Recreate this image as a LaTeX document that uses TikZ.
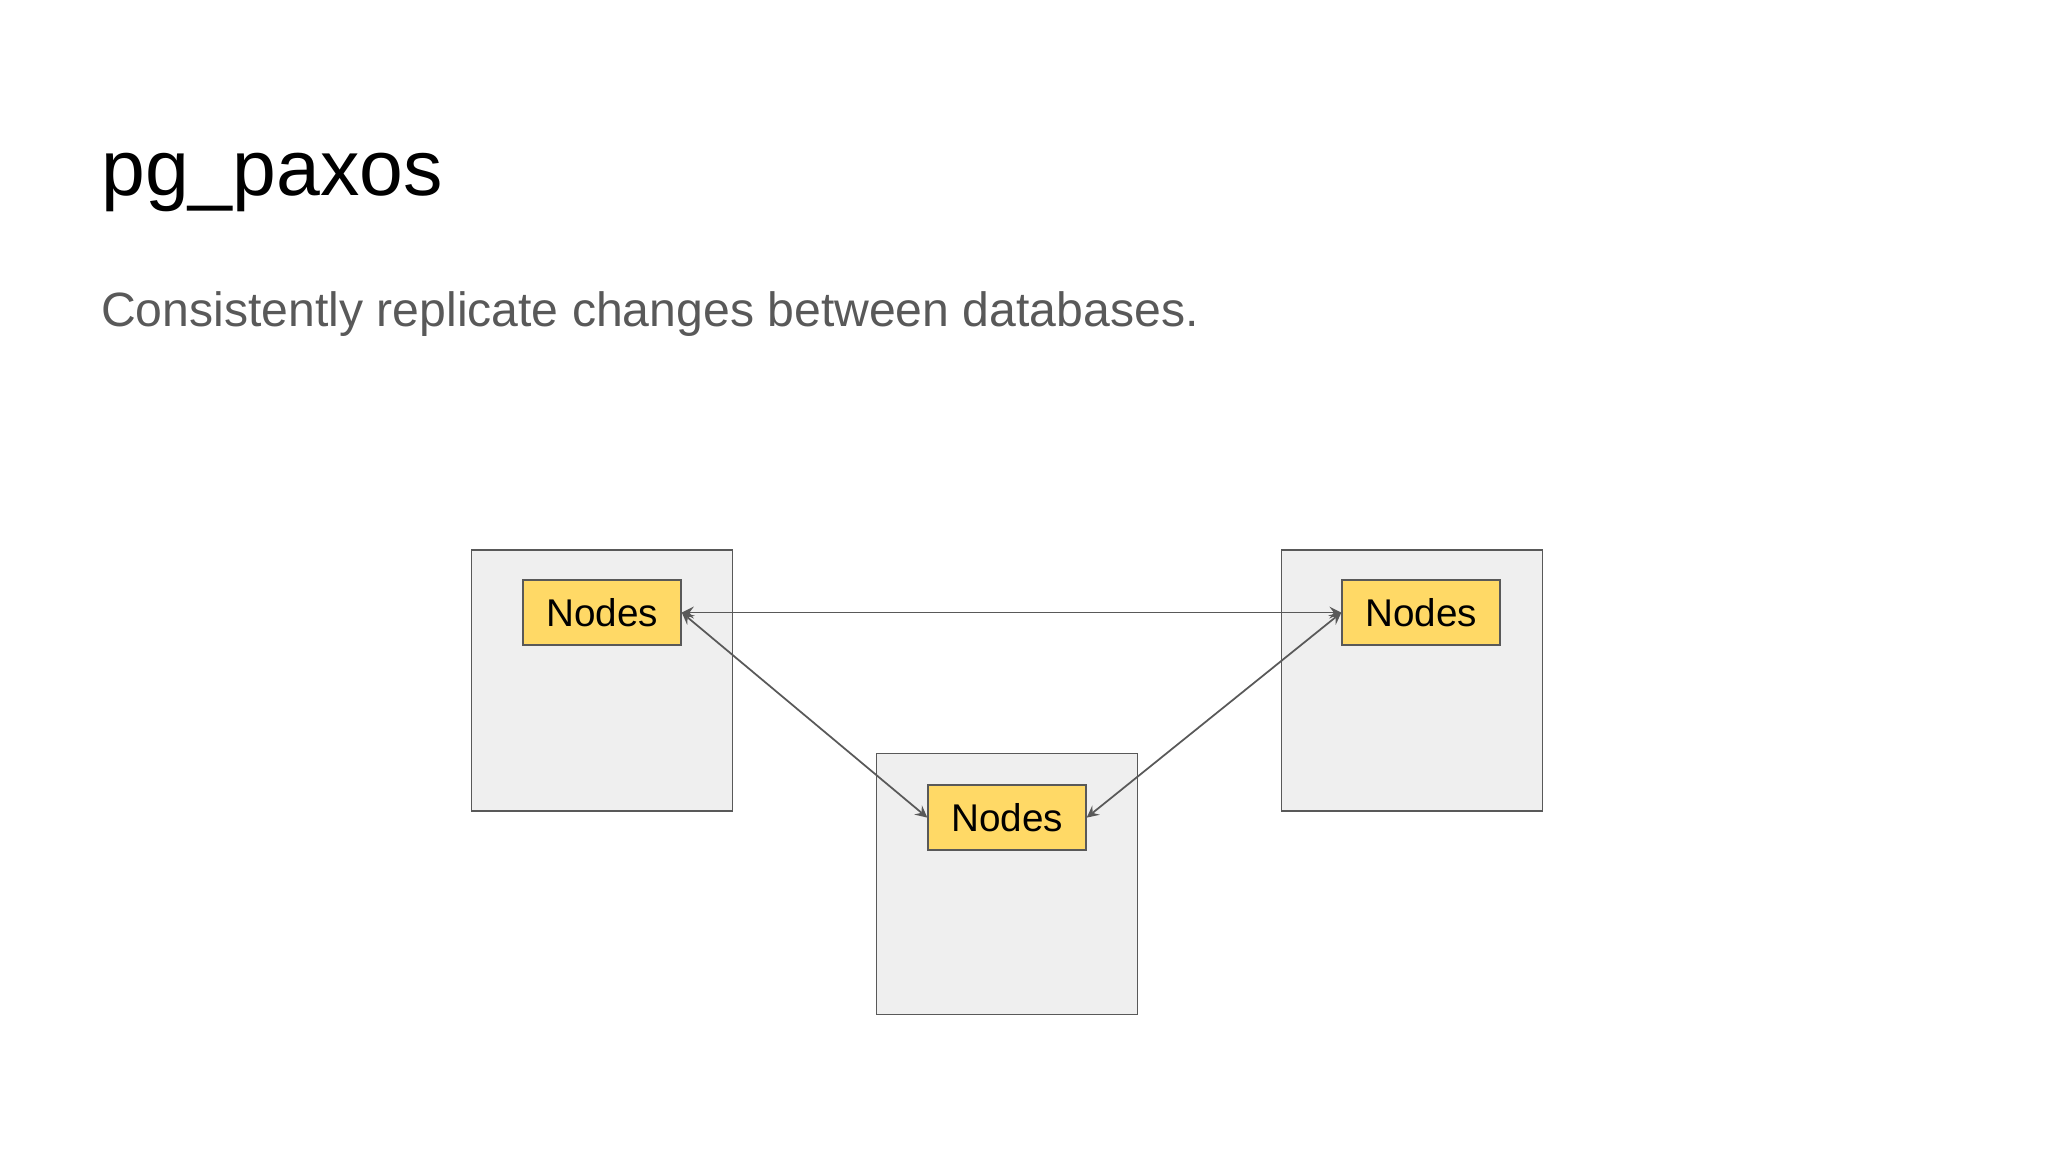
\documentclass[tikz,border=0pt]{standalone}
\usepackage{fontspec}
\setmainfont{Liberation Sans}
\usetikzlibrary{positioning}
\definecolor{boxfill}{HTML}{EFEFEF}
\definecolor{boxline}{HTML}{595959}
\definecolor{nodefill}{HTML}{FFD966}
\definecolor{subgray}{HTML}{595959}

\begin{document}
\begin{tikzpicture}[x=0.013061cm,y=-0.013061cm]
        \tikzset{
          server/.style={draw=boxline,fill=boxfill,minimum width=2.61cm,minimum height=2.61cm,inner sep=0pt},
          pgnode/.style={draw=boxline,fill=nodefill,minimum width=1.58cm,minimum height=0.65cm,inner sep=0pt,font=\fontsize{11pt}{13pt}\selectfont},
          link/.style={draw=boxline,line width=0.5pt,<->,>=stealth}
        }
        \useasboundingbox (0,0) rectangle (1568,882);
        \node [anchor=base west,font=\fontsize{22.4pt}{26pt}\selectfont] (title) at (68,150) {pg\_paxos};
        \node [anchor=base west,text=subgray,font=\fontsize{13.7pt}{16pt}\selectfont] (subtitle) at (68,250) {Consistently replicate changes between databases.};
        \node [server] (left) at (461,521) {};
        \node [server] (right) at (1081,521) {};
        \node [server] (middle) at (771,677) {};
        \node [pgnode] (nleft) at (461,469) {Nodes};
        \node [pgnode] (nright) at (1088,469) {Nodes};
        \node [pgnode] (nmiddle) at (771,626) {Nodes};
        \draw [link] (nleft.east) -- (nright.west);
        \draw [link] (nleft.east) -- (nmiddle.west);
        \draw [link] (nmiddle.east) -- (nright.west);
\end{tikzpicture}
\end{document}
